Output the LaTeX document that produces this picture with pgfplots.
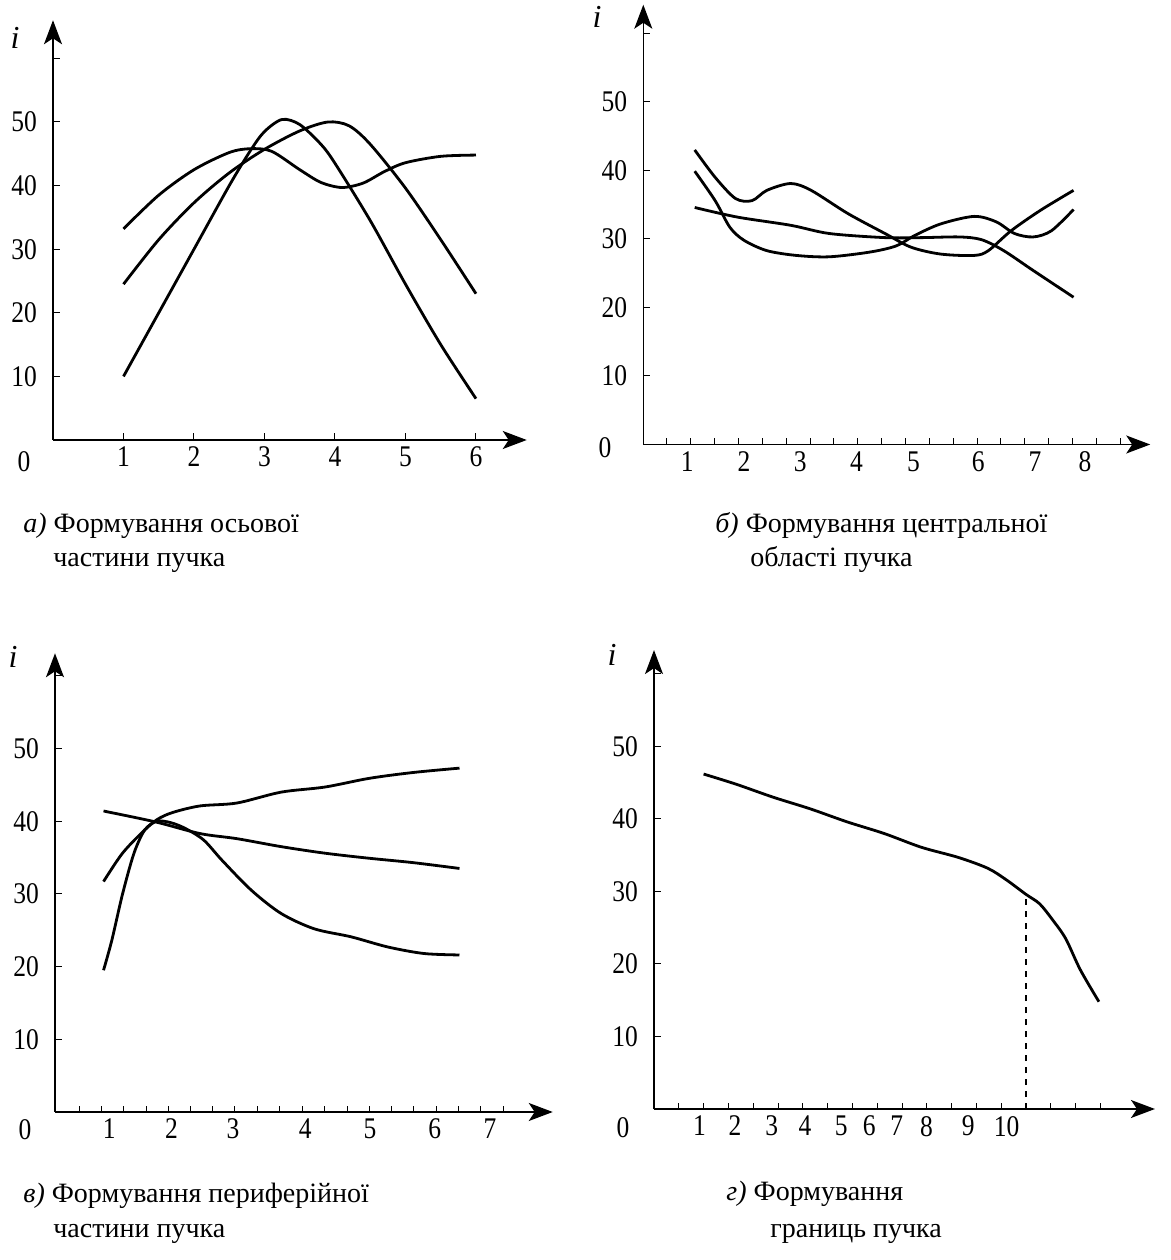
\documentclass[border=0pt]{standalone}
\usepackage{fontspec}
\setmainfont{Liberation Serif}
\newfontfamily\tickfont{Liberation Serif}[FakeStretch=0.85]
\usepackage{pgfplots}
\pgfplotsset{compat=1.18}
\usetikzlibrary{arrows.meta}

\pgfplotsset{panel/.style={
 axis lines=left,
 axis line style={line width=0.8pt, -{Stealth[length=12pt,width=9pt,inset=3pt]}},
 tick align=inside,
 major tick length=3.5pt,
 minor tick length=3pt,
 tick style={line width=0.5pt, black},
 enlargelimits=false,
 clip=false,
 ymin=0,
 ytick={10,20,30,40,50,60},
 yticklabels={10,20,30,40,50,{}},
 tick label style={font=\tickfont\fontsize{15}{18}\selectfont, text=black},
 yticklabel style={xshift=-4.5pt},
 anchor=south west,
 cycle list={black,line width=1.4pt,smooth,mark=none\\},
}}

\begin{document}
\begin{tikzpicture}
\useasboundingbox (0,0) rectangle (585.5pt,630pt);

% ---------- a) ----------
\begin{axis}[panel, at={(26.5pt,410pt)}, x=35.25pt, y=3.18pt,
  xmin=0, xmax=6.72, ymax=66,
  xtick={1,2,3,4,5,6}, xticklabels={1,2,3,4,5,6}]
\addplot coordinates {(1,10) (1.5,20) (2,30) (2.5,40) (2.8,45.5) (3,48.5) (3.25,50.4) (3.5,49.6) (3.8,46.5) (4,43.5) (4.5,34.5) (5,24.5) (5.5,15) (6,6.5)};
\addplot coordinates {(1,24.5) (1.5,31.5) (2,37.3) (2.5,42) (3,45.7) (3.5,48.6) (3.9,50) (4.2,49.4) (4.5,46.5) (5,39.6) (5.5,31.5) (6,23)};
\addplot coordinates {(1,33.2) (1.5,38.5) (2,42.5) (2.5,45.2) (2.8,45.8) (3.1,45.4) (3.5,42.5) (3.8,40.5) (4.1,39.7) (4.4,40.4) (4.7,42.2) (5,43.6) (5.5,44.6) (6,44.8)};
\end{axis}

% ---------- b) ----------
\begin{axis}[panel, at={(321.65pt,407.75pt)}, x=28.4pt, y=3.425pt,
  xmin=0.225, xmax=9.15, ymax=64.2,
  xtick={1,2,2.99,3.98,4.98,6.12,7.12,8}, xticklabels={1,2,3,4,5,6,7,8},
  major x tick style={draw=none},
  minor xtick={0.64,1.06,1.48,1.90,2.32,2.74,3.16,3.58,4.00,4.42,4.84,5.26,5.68,6.10,6.52,6.94,7.36,7.78,8.20,8.62}]
\addplot coordinates {(1.13,43) (1.49,39) (1.85,35.9) (2.14,35.6) (2.4,37.1) (2.82,38.1) (3.18,37.1) (3.83,33.7) (4.48,30.8) (4.94,28.8) (5.46,27.8) (6.05,27.6) (6.3,28.3) (6.7,31.2) (7.22,34.2) (7.8,37.1)};
\addplot coordinates {(1.13,39.9) (1.49,35.6) (1.75,31.7) (2.0,29.8) (2.4,28.3) (2.92,27.6) (3.5,27.4) (4.22,28.1) (4.68,29) (5.0,30.5) (5.46,32.2) (6.05,33.3) (6.44,32.5) (6.76,30.8) (7.09,30.3) (7.41,31.2) (7.8,34.3)};
\addplot coordinates {(1.13,34.6) (1.88,33.2) (2.82,32) (3.5,30.8) (4.48,30.2) (5.13,30.2) (5.79,30.3) (6.18,29.9) (6.57,28.3) (7.09,25.4) (7.8,21.5)};
\end{axis}

% ---------- c) ----------
\begin{axis}[panel, at={(27.5pt,74pt)}, x=31.725pt, y=3.635pt,
  xmin=0.145, xmax=7.99, ymax=63.1,
  xtick={1,1.98,2.95,4.09,5.11,6.13,7}, xticklabels={1,2,3,4,5,6,7},
  major x tick style={draw=none},
  minor xtick={0.53,0.88,1.23,1.58,1.93,2.28,2.63,2.98,3.33,3.69,4.04,4.39,4.75,5.10,5.45,5.80,6.15,6.50,6.85,7.21}]
\addplot coordinates {(0.91,31.7) (1.2,35.5) (1.5,38.3) (1.75,40.2) (2.0,41.2) (2.43,42.1) (3.01,42.5) (3.71,44.0) (4.4,44.7) (5.1,45.9) (5.79,46.7) (6.52,47.3)};
\addplot coordinates {(0.91,41.4) (1.73,39.9) (2.43,38.3) (3.01,37.6) (3.71,36.5) (4.4,35.6) (5.1,34.9) (5.79,34.3) (6.52,33.5)};
\addplot coordinates {(0.91,19.5) (1.04,23.6) (1.21,30) (1.39,35.6) (1.56,38.8) (1.75,40.0) (1.97,39.8) (2.2,39) (2.49,37.4) (2.78,34.6) (3.24,30.5) (3.71,27.3) (4.23,25.2) (4.81,24.1) (5.39,22.7) (5.96,21.8) (6.52,21.6)};
\end{axis}

% ---------- d) ----------
\begin{axis}[panel, at={(327pt,75.5pt)}, x=12.4pt, y=3.625pt,
  xmin=0, xmax=20.2, ymax=63.3,
  xtick={1.83,3.27,4.75,6.09,7.55,8.68,9.79,10.99,12.67,14.22}, xticklabels={1,2,3,4,5,6,7,8,9,10},
  major x tick style={draw=none},
  minor xtick={1,2,...,18}]
\addplot coordinates {(2.0,46.2) (3.31,44.8) (4.81,43.0) (6.3,41.4) (7.79,39.6) (9.28,38.0) (10.78,36.1) (12.27,34.7) (13.46,33.2) (14.21,31.6) (15,29.6) (15.55,28.3) (16.07,26.1) (16.6,23.5) (17.19,19.2) (17.94,14.8)};
\addplot[black, line width=0.8pt, dashed, sharp plot, mark=none] coordinates {(15,0) (15,29.6)};
\end{axis}

% zero labels and axis names
\begin{scope}[every node/.style={font=\tickfont\fontsize{15}{18}\selectfont, inner sep=0pt}]
\node at (12pt,399pt) {0};
\node at (302.5pt,406pt) {0};
\node at (12.5pt,65pt) {0};
\node at (311.5pt,66pt) {0};
\end{scope}
\begin{scope}[every node/.style={font=\itshape\fontsize{16}{18}\selectfont, inner sep=0pt}]
\node at (7.5pt,611pt) {i};
\node at (298.5pt,621.5pt) {i};
\node at (6.5pt,301.5pt) {i};
\node at (306pt,302.5pt) {i};
\end{scope}

% captions
\begin{scope}[every node/.style={font=\fontsize{14}{17}\selectfont, anchor=base west, inner sep=0pt}]
\node at (11.5pt,363.5pt) {\textit{а)} Формування осьової};
\node at (26.5pt,346.5pt) {частини пучка};
\node at (357.5pt,363.5pt) {\textit{б)} Формування центральної};
\node at (375pt,346.5pt) {області пучка};
\node at (11.5pt,28.5pt) {\textit{в)} Формування периферійної};
\node at (26.5pt,11pt) {частини пучка};
\node at (363pt,30pt) {\textit{г)} Формування};
\node at (385pt,11pt) {границь пучка};
\end{scope}
\end{tikzpicture}
\end{document}
